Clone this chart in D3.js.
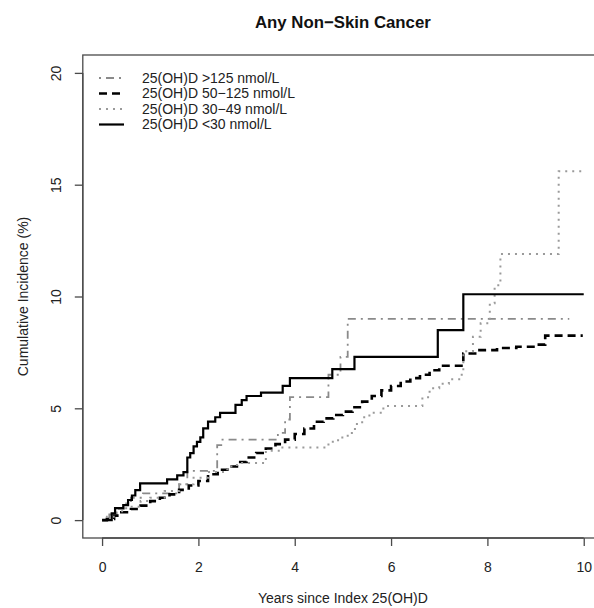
<!DOCTYPE html>
<html>
<head>
<meta charset="utf-8">
<script src="https://cdn.jsdelivr.net/npm/d3@7"></script>
<style>
  html, body { margin: 0; padding: 0; background: #fff; }
  svg { display: block; font-family: "Liberation Sans", Arial, Helvetica, sans-serif; }
</style>
</head>
<body>
<svg id="chart" width="594" height="608"></svg>
<script>
// ---------------- data ----------------
const title = "Any Non\u2212Skin Cancer";
const xTitle = "Years since Index 25(OH)D";
const yTitle = "Cumulative Incidence (%)";
const xTicks = [0, 2, 4, 6, 8, 10];
const yTicks = [0, 5, 10, 15, 20];

const seriesNames = [
  "25(OH)D >125 nmol/L",
  "25(OH)D 50\u2212125 nmol/L",
  "25(OH)D 30\u221249 nmol/L",
  "25(OH)D <30 nmol/L"
];

// >125 nmol/L (dash-dot, grey)
const t125 = [0, 0.15, 0.3, 0.45, 0.6, 0.85, 1.6, 1.77, 2.39, 2.5, 3.65, 3.8, 3.9, 4.7, 4.95, 5.1, 9.7];
const v125 = [0, 0.25, 0.5, 0.75, 1.0, 1.2, 1.6, 2.2, 3.35, 3.6, 3.9, 4.5, 5.5, 6.5, 7.3, 9.0, 9.0];

// 50-125 nmol/L (dashed, black)
const t50 = [0, 0.1, 0.25, 0.4, 0.6, 0.8, 1.0, 1.2, 1.4, 1.6, 1.8, 2.0, 2.2, 2.4, 2.6, 2.8, 3.0, 3.2, 3.4, 3.6, 3.8, 4.0, 4.2, 4.4, 4.6, 4.8, 5.0, 5.2, 5.4, 5.6, 5.8, 6.0, 6.2, 6.4, 6.6, 6.8, 7.0, 7.5, 7.8, 8.2, 8.6, 9.0, 9.2, 9.98];
const v50 = [0, 0.05, 0.2, 0.35, 0.5, 0.65, 0.85, 1.0, 1.15, 1.35, 1.55, 1.75, 2.05, 2.25, 2.4, 2.6, 2.8, 3.0, 3.2, 3.4, 3.6, 3.85, 4.1, 4.4, 4.55, 4.7, 4.85, 5.05, 5.3, 5.55, 5.8, 6.0, 6.2, 6.35, 6.5, 6.7, 6.9, 7.45, 7.6, 7.7, 7.75, 7.85, 8.25, 8.25];

// 30-49 nmol/L (dotted, grey)
const t30 = [0, 0.1, 0.3, 0.5, 0.8, 1.0, 1.3, 1.6, 1.9, 2.2, 2.6, 2.8, 3.4, 3.7, 4.7, 4.9, 5.1, 5.25, 5.4, 5.55, 5.84, 6.65, 6.8, 7.0, 7.2, 7.44, 7.5, 7.7, 7.86, 8.05, 8.15, 8.27, 9.48, 10.0];
const v30 = [0, 0.15, 0.4, 0.6, 0.85, 1.0, 1.3, 1.6, 1.9, 2.15, 2.4, 2.55, 3.1, 3.25, 3.5, 3.7, 3.9, 4.3, 4.6, 4.8, 5.1, 5.5, 5.9, 6.1, 6.3, 6.5, 7.55, 8.2, 8.8, 9.7, 10.5, 11.9, 15.6, 15.6];

// <30 nmol/L (solid, black)
const tLow = [0, 0.2, 0.27, 0.44, 0.54, 0.62, 0.69, 0.79, 1.35, 1.56, 1.69, 1.77, 1.83, 1.9, 1.97, 2.04, 2.1, 2.2, 2.35, 2.45, 2.77, 2.9, 3.0, 3.3, 3.75, 3.9, 4.78, 5.24, 6.97, 7.5, 10.0];
const vLow = [0, 0.3, 0.54, 0.67, 0.9, 1.1, 1.34, 1.64, 1.82, 2.0, 2.15, 2.8, 3.0, 3.3, 3.5, 3.7, 4.1, 4.4, 4.6, 4.8, 5.15, 5.37, 5.55, 5.7, 6.0, 6.35, 6.75, 7.3, 8.5, 10.1, 10.1];

const seriesStyles = [
  { color: "#8a8a8a", width: 1.8, dash: "2,5,8,5" },
  { color: "#000000", width: 2.6, dash: "8,5" },
  { color: "#9a9a9a", width: 2.0, dash: "2,5" },
  { color: "#000000", width: 2.2, dash: null }
];
const seriesData = [
  t125.map((t, i) => [t, v125[i]]),
  t50.map((t, i) => [t, v50[i]]),
  t30.map((t, i) => [t, v30[i]]),
  tLow.map((t, i) => [t, vLow[i]])
];

// ---------------- layout ----------------
const svg = d3.select("#chart");
const pLeft = 82.8, pRight = 603, pTop = 55, pBottom = 538;
const x = d3.scaleLinear().domain([-0.4, 10.4]).range([pLeft, pRight]);
const y = d3.scaleLinear().domain([-0.8, 20.8]).range([pBottom, pTop]);
const axisColor = "#4a4a4a";
const fontSize = 14;

// plot box
svg.append("rect")
  .attr("x", pLeft).attr("y", pTop)
  .attr("width", pRight - pLeft).attr("height", pBottom - pTop)
  .attr("fill", "none").attr("stroke", axisColor).attr("stroke-width", 1.3);

// x axis
const xAxis = d3.axisBottom(x).tickValues(xTicks).tickSize(8).tickPadding(6).tickFormat(d3.format("d"));
const gx = svg.append("g").attr("transform", `translate(0,${pBottom})`).call(xAxis);
gx.select(".domain").attr("d", `M${x(xTicks[0])},0H${x(xTicks[xTicks.length - 1])}`)
  .attr("stroke", axisColor).attr("stroke-width", 1.3);
gx.selectAll(".tick line").attr("stroke", axisColor).attr("stroke-width", 1.3);
gx.selectAll(".tick text").attr("font-size", fontSize).attr("fill", "#222")
  .attr("font-family", "Liberation Sans, Arial, sans-serif").attr("dy", null).attr("y", 34);

// y axis
const yAxis = d3.axisLeft(y).tickValues(yTicks).tickSize(8).tickFormat(d3.format("d"));
const gy = svg.append("g").attr("transform", `translate(${pLeft},0)`).call(yAxis);
gy.select(".domain").attr("d", `M0,${y(yTicks[0])}V${y(yTicks[yTicks.length - 1])}`)
  .attr("stroke", axisColor).attr("stroke-width", 1.3);
gy.selectAll(".tick line").attr("stroke", axisColor).attr("stroke-width", 1.3);
gy.selectAll(".tick text")
  .attr("font-size", fontSize).attr("fill", "#222")
  .attr("font-family", "Liberation Sans, Arial, sans-serif")
  .attr("x", null).attr("dy", null)
  .attr("text-anchor", "middle")
  .attr("transform", "translate(-22,0) rotate(-90)");

// titles
svg.append("text")
  .attr("x", (pLeft + pRight) / 2).attr("y", 28)
  .attr("text-anchor", "middle").attr("font-size", 16.8).attr("font-weight", "bold").attr("fill", "#111")
  .text(title);
svg.append("text")
  .attr("x", (pLeft + pRight) / 2).attr("y", 603)
  .attr("text-anchor", "middle").attr("font-size", fontSize).attr("fill", "#222")
  .text(xTitle);
svg.append("text")
  .attr("transform", `translate(28,${(pTop + pBottom) / 2}) rotate(-90)`)
  .attr("text-anchor", "middle").attr("font-size", fontSize).attr("fill", "#222")
  .text(yTitle);

// series
const line = d3.line().x(d => x(d[0])).y(d => y(d[1])).curve(d3.curveStepAfter);
const gLines = svg.append("g");
seriesData.forEach((data, i) => {
  const s = seriesStyles[i];
  gLines.append("path")
    .attr("d", line(data))
    .attr("fill", "none")
    .attr("stroke", s.color)
    .attr("stroke-width", s.width)
    .attr("stroke-dasharray", s.dash)
    .attr("stroke-linejoin", "miter");
});

// legend
const legendY0 = 78, legendDy = 15.5;
const lg = svg.append("g");
seriesNames.forEach((name, i) => {
  const s = seriesStyles[i];
  const yy = legendY0 + i * legendDy;
  lg.append("line")
    .attr("x1", 99).attr("x2", 124).attr("y1", yy).attr("y2", yy)
    .attr("stroke", s.color).attr("stroke-width", s.width)
    .attr("stroke-dasharray", s.dash);
  lg.append("text")
    .attr("x", 142).attr("y", yy).attr("dy", "0.35em")
    .attr("font-size", fontSize).attr("fill", "#222")
    .text(name);
});
</script>
</body>
</html>
